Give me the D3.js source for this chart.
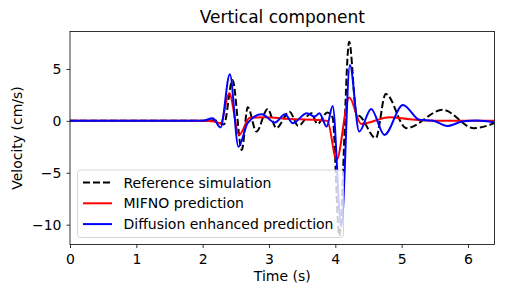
<!DOCTYPE html>
<html>
<head>
<meta charset="utf-8">
<style>
  body { margin: 0; background: #fff; }
  svg text { font-family: "DejaVu Sans", sans-serif; fill: #000; }
</style>
<script src="https://cdn.jsdelivr.net/npm/d3@7"></script>
</head>
<body>
<script>
// data (time in s, velocity in cm/s)
var refT = [0, 2.0, 2.18, 2.32, 2.45, 2.59, 2.68, 2.81, 2.98, 3.11, 3.31, 3.44, 3.64, 3.73, 3.88, 3.96, 4.06, 4.21, 4.32, 4.37, 4.61, 4.76, 5.07, 5.62, 6.09, 6.4];
var refV = [0, 0, 0.05, -0.35, 3.94, -2.8, 1.32, -1.03, 1.15, -0.7, 0.89, -0.48, 0.74, -0.29, 0.8, 0.3, -11.06, 7.63, 0.6, 0.45, -1.66, 2.6, -0.7, 1.06, -0.7, -0.22];

var mifnoT = [0, 2.0, 2.18, 2.27, 2.40, 2.55, 2.71, 2.93, 3.31, 3.69, 3.88, 4.02, 4.21, 4.39, 4.82, 5.12, 5.57, 6.4];
var mifnoV = [0, 0, -0.05, -0.25, 2.66, -1.35, 0.29, 0.34, 0.19, 0.1, 0, -3.75, 2.24, -0.29, 0.36, 0.15, 0, 0];

var diffT = [0, 2.0, 2.15, 2.27, 2.41, 2.54, 2.68, 2.89, 3.09, 3.24, 3.36, 3.57, 3.69, 3.76, 3.87, 3.96, 4.09, 4.22, 4.36, 4.54, 4.74, 5.02, 5.27, 5.46, 5.69, 5.91, 6.13, 6.4];
var diffV = [0, 0, 0.26, -0.64, 4.5, -2.5, -0.2, 0.64, -0.16, 0.64, -0.22, 0.74, 0.41, 0.74, -0.55, 1.44, -10.2, 5.38, -1.03, 1.15, -1.35, 1.53, 0.1, 0.03, -0.49, -0.07, 0.03, -0.16];

var xTicks = [0, 1, 2, 3, 4, 5, 6];
var yTicks = [-10, -5, 0, 5];
var seriesNames = ["Reference simulation", "MIFNO prediction", "Diffusion enhanced prediction"];

var width = 505, height = 299;
var margin = {top: 31.5, right: 10.5, bottom: 54.5, left: 70};

var svg = d3.select("body").append("svg")
  .attr("width", width)
  .attr("height", height);

var x = d3.scaleLinear().domain([0, 6.4]).range([margin.left, width - margin.right]);
var y = d3.scaleLinear().domain([-11.91, 8.61]).range([height - margin.bottom, margin.top]);

var series = [
  {t: refT, v: refV, color: "#000000", dash: "7,3"},
  {t: mifnoT, v: mifnoV, color: "#ff0000", dash: null},
  {t: diffT, v: diffV, color: "#0000ff", dash: null}
];

svg.append("clipPath").attr("id", "clip")
  .append("rect")
  .attr("x", margin.left).attr("y", margin.top)
  .attr("width", width - margin.left - margin.right)
  .attr("height", height - margin.top - margin.bottom);

var line = d3.line()
  .x(function(d) { return x(d[0]); })
  .y(function(d) { return y(d[1]); })
  .curve(d3.curveMonotoneX);

var plot = svg.append("g").attr("clip-path", "url(#clip)");
series.forEach(function(s) {
  plot.append("path")
    .datum(s.t.map(function(t, i) { return [t, s.v[i]]; }))
    .attr("fill", "none")
    .attr("stroke", s.color)
    .attr("stroke-width", 2)
    .attr("stroke-dasharray", s.dash)
    .attr("d", line);
});

// axes
var fmt = function(d) { return d < 0 ? "\u2212" + Math.abs(d) : d; };
var xAxis = svg.append("g")
  .attr("transform", "translate(0," + (height - margin.bottom) + ")")
  .call(d3.axisBottom(x).tickValues(xTicks).tickSize(3.5).tickPadding(6).tickFormat(fmt));
var yAxis = svg.append("g")
  .attr("transform", "translate(" + margin.left + ",0)")
  .call(d3.axisLeft(y).tickValues(yTicks).tickSize(3.5).tickPadding(5).tickFormat(fmt));
[xAxis, yAxis].forEach(function(a) {
  a.select(".domain").remove();
  a.selectAll("line").attr("stroke", "#000").attr("stroke-width", 0.8);
  a.selectAll("text").style("font-size", "14px").style("font-family", "DejaVu Sans");
});

svg.append("rect")
  .attr("x", margin.left).attr("y", margin.top)
  .attr("width", width - margin.left - margin.right)
  .attr("height", height - margin.top - margin.bottom)
  .attr("fill", "none").attr("stroke", "#000").attr("stroke-width", 0.8);

// labels
svg.append("text")
  .attr("x", (margin.left + width - margin.right) / 2)
  .attr("y", 23)
  .attr("text-anchor", "middle")
  .style("font-size", "17px")
  .text("Vertical component");

svg.append("text")
  .attr("x", (margin.left + width - margin.right) / 2)
  .attr("y", 281)
  .attr("text-anchor", "middle")
  .style("font-size", "14px")
  .text("Time (s)");

svg.append("text")
  .attr("transform", "translate(22," + ((margin.top + height - margin.bottom) / 2) + ") rotate(-90)")
  .attr("text-anchor", "middle")
  .style("font-size", "14px")
  .text("Velocity (cm/s)");

// legend
var legend = svg.append("g");
legend.append("rect")
  .attr("x", 77.5).attr("y", 170)
  .attr("width", 266).attr("height", 67.5)
  .attr("rx", 3)
  .attr("fill", "#fff").attr("fill-opacity", 0.8)
  .attr("stroke", "#cccccc").attr("stroke-width", 0.8);

series.forEach(function(s, i) {
  var ly = 182.5 + i * 20.8;
  legend.append("line")
    .attr("x1", 83).attr("x2", 112)
    .attr("y1", ly).attr("y2", ly)
    .attr("stroke", s.color)
    .attr("stroke-width", 2)
    .attr("stroke-dasharray", s.dash);
  legend.append("text")
    .attr("x", 123.5).attr("y", ly + 5)
    .style("font-size", "14px")
    .text(seriesNames[i]);
});
</script>
</body>
</html>
